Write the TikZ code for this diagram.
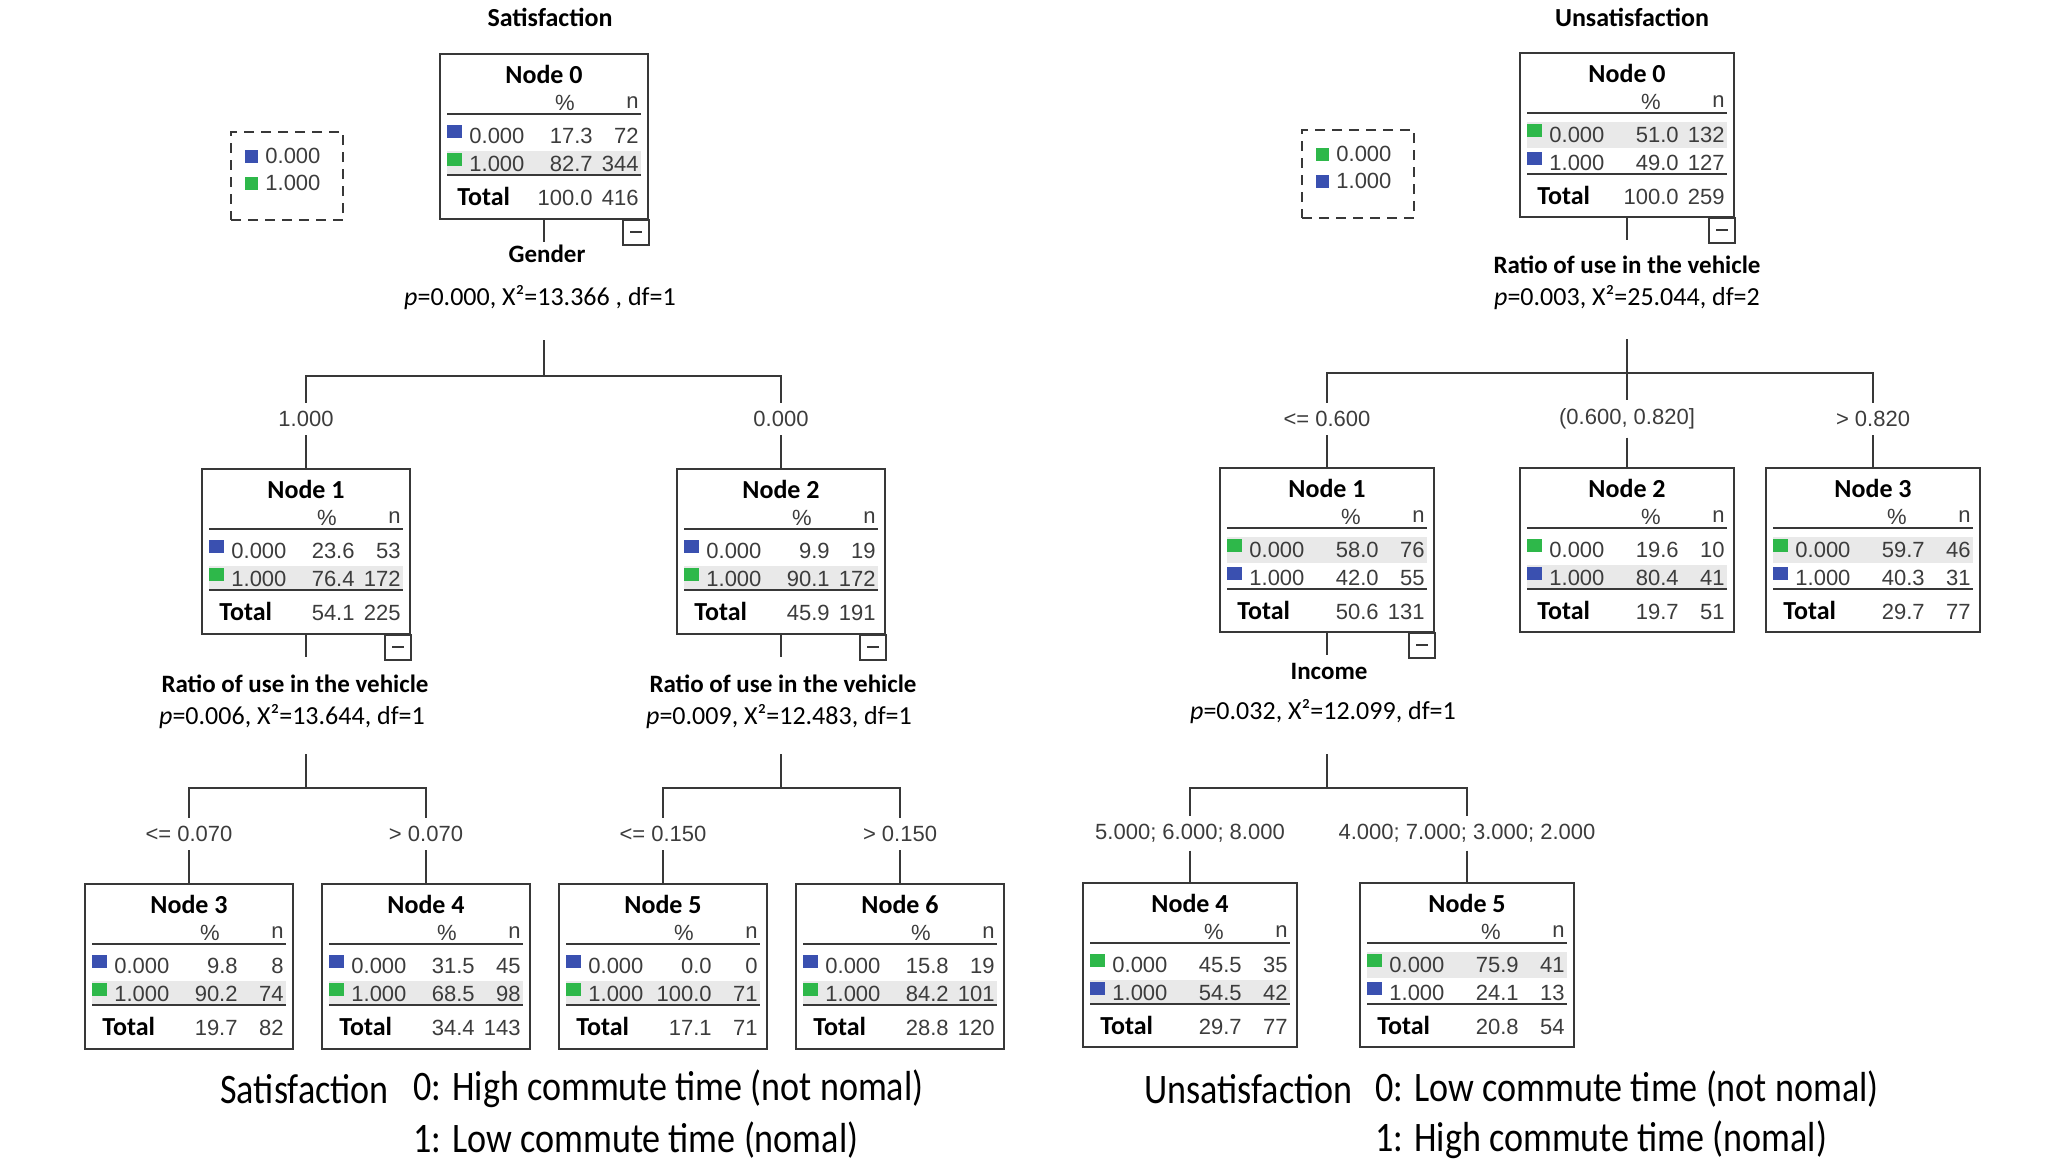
\documentclass[tikz,border=0pt]{standalone}
\usepackage{fontspec}
\setmainfont{Liberation Sans}
\newfontfamily\hdfont{Carlito}
\newfontfamily\capfont[FakeStretch=0.86]{Carlito}

\definecolor{sqblue}{HTML}{3A50B0}
\definecolor{sqgreen}{HTML}{2EB84A}
\definecolor{rowgray}{HTML}{E9E9E9}
\definecolor{numgray}{HTML}{3C3C3C}
\definecolor{linegray}{HTML}{383838}

% rows of one node table: name, shaded row, title, % and n of both rows, totals
\newcommand\boxrows[9]{%
  \ifnum#2=1
    \fill[rowgray] ([shift={(8,70)}]#1.north west) rectangle ([shift={(-8,96)}]#1.north east);
  \else
    \fill[rowgray] ([shift={(8,98)}]#1.north west) rectangle ([shift={(-8,121)}]#1.north east);
  \fi
  \node[boxtitle] at ([shift={(0,21)}]#1.north) {#3};
  \node[cell] at ([shift={(-84,50)}]#1.north east) {\%};
  \node[cell,anchor=east] at ([shift={(-10,50)}]#1.north east) {n};
  \draw[tabrule] ([shift={(8,61)}]#1.north west) -- ([shift={(-8,61)}]#1.north east);
  \draw[tabrule] ([shift={(8,122)}]#1.north west) -- ([shift={(-8,122)}]#1.north east);
  \fill[fill=\colA] ([shift={(8,72)}]#1.north west) rectangle ++(15,13);
  \fill[fill=\colB] ([shift={(8,100)}]#1.north west) rectangle ++(15,13);
  \node[cell,anchor=west] at ([shift={(30,83)}]#1.north west) {0.000};
  \node[cell,anchor=east] at ([shift={(-56,83)}]#1.north east) {#4};
  \node[cell,anchor=east] at ([shift={(-10,83)}]#1.north east) {#5};
  \node[cell,anchor=west] at ([shift={(30,111)}]#1.north west) {1.000};
  \node[cell,anchor=east] at ([shift={(-56,111)}]#1.north east) {#6};
  \node[cell,anchor=east] at ([shift={(-10,111)}]#1.north east) {#7};
  \node[totcell,anchor=west] at ([shift={(18,143)}]#1.north west) {Total};
  \node[cell,anchor=east] at ([shift={(-56,145)}]#1.north east) {#8};
  \node[cell,anchor=east] at ([shift={(-10,145)}]#1.north east) {#9};
}
\newcommand\minusbox[1]{%
  \draw[link] (#1.south east) rectangle ++(-26,25);
  \draw[link] ([shift={(-19,12)}]#1.south east) -- ++(12,0);
}
\newcommand\legrows[1]{%
  \fill[fill=\colA] ([shift={(15,19)}]#1.north west) rectangle ++(13,13);
  \fill[fill=\colB] ([shift={(15,46)}]#1.north west) rectangle ++(13,13);
  \node[cell,anchor=west] at ([shift={(35,25)}]#1.north west) {0.000};
  \node[cell,anchor=west] at ([shift={(35,52)}]#1.north west) {1.000};
}

\begin{document}
\begin{tikzpicture}[x=0.5pt,y=-0.5pt,
  treebox/.style={draw=linegray,line width=1pt,anchor=north,minimum width=104pt,minimum height=82.5pt,inner sep=0pt},
  wbox/.style={treebox,minimum width=107pt,minimum height=82pt},
  legbox/.style={draw=linegray,line width=1pt,dash pattern=on 5pt off 3.5pt,anchor=north west,minimum width=56pt,minimum height=44pt,inner sep=0pt},
  link/.style={draw=linegray,line width=1pt},
  tabrule/.style={draw=linegray,line width=1.2pt},
  cell/.style={font=\fontsize{11}{13}\selectfont,text=numgray,inner sep=0pt},
  totcell/.style={font=\hdfont\bfseries\fontsize{13}{15}\selectfont,inner sep=0pt},
  boxtitle/.style={font=\hdfont\bfseries\fontsize{13}{15}\selectfont,inner sep=0pt},
  treetitle/.style={font=\hdfont\bfseries\fontsize{13}{15}\selectfont},
  cut/.style={font=\fontsize{11}{13}\selectfont,text=numgray,inner sep=4pt},
  varname/.style={font=\hdfont\bfseries\fontsize{12.5}{15}\selectfont},
  stat/.style={font=\hdfont\fontsize{13}{15}\selectfont},
  caption/.style={font=\capfont\fontsize{21}{25}\selectfont,anchor=west,inner sep=0pt}]
  \useasboundingbox (0,0) rectangle (2067,1163);

  % Satisfaction tree
  \def\colA{sqblue}\def\colB{sqgreen}
  \node[treetitle] (sat) at (550,17) {Satisfaction};
  \node[legbox] (sleg) at (230,131) {};
  \legrows{sleg}

  \node[treebox] (l0) at (544,53) {};
  \boxrows{l0}{2}{Node 0}{17.3}{72}{82.7}{344}{100.0}{416}
  \minusbox{l0}
  \draw[link] (l0.south) -- ++(0,22);
  \node[varname] (l0var) at (547,254) {Gender};
  \node[stat] (l0stat) at (540,298) {\textit{p}=0.000, X²=13.366 , df=1};
  \coordinate (l0fork) at (544,376);
  \draw[link] (l0fork) -- ++(0,-36);
  \node[cut] (l1cut) at (306,419) {1.000};
  \node[cut] (l2cut) at (781,419) {0.000};
  \draw[link] (l1cut.north) -- (l1cut.north |- l0fork) -- (l2cut.north |- l0fork) -- (l2cut.north);

  \node[treebox] (l1) at (306,468) {};
  \node[treebox] (l2) at (781,468) {};
  \draw[link] (l1cut.south) -- (l1.north);
  \draw[link] (l2cut.south) -- (l2.north);
  \boxrows{l1}{2}{Node 1}{23.6}{53}{76.4}{172}{54.1}{225}
  \boxrows{l2}{2}{Node 2}{9.9}{19}{90.1}{172}{45.9}{191}
  \minusbox{l1}
  \minusbox{l2}
  \draw[link] (l1.south) -- ++(0,22);
  \draw[link] (l2.south) -- ++(0,22);
  \node[varname] (l1var) at (295,684) {Ratio of use in the vehicle};
  \node[stat] (l1stat) at (292,717) {\textit{p}=0.006, X²=13.644, df=1};
  \node[varname] (l2var) at (783,684) {Ratio of use in the vehicle};
  \node[stat] (l2stat) at (779,717) {\textit{p}=0.009, X²=12.483, df=1};
  \coordinate (l1fork) at (306,788);
  \coordinate (l2fork) at (781,788);
  \draw[link] (l1fork) -- ++(0,-34);
  \draw[link] (l2fork) -- ++(0,-34);
  \node[cut] (l3cut) at (189,834) {<= 0.070};
  \node[cut] (l4cut) at (426,834) {> 0.070};
  \node[cut] (l5cut) at (663,834) {<= 0.150};
  \node[cut] (l6cut) at (900,834) {> 0.150};
  \draw[link] (l3cut.north) -- (l3cut.north |- l1fork) -- (l4cut.north |- l1fork) -- (l4cut.north);
  \draw[link] (l5cut.north) -- (l5cut.north |- l2fork) -- (l6cut.north |- l2fork) -- (l6cut.north);

  \node[treebox] (l3) at (189,883) {};
  \node[treebox] (l4) at (426,883) {};
  \node[treebox] (l5) at (663,883) {};
  \node[treebox] (l6) at (900,883) {};
  \foreach \k in {3,4,5,6} {\draw[link] (l\k cut.south) -- (l\k.north);}
  \boxrows{l3}{2}{Node 3}{9.8}{8}{90.2}{74}{19.7}{82}
  \boxrows{l4}{2}{Node 4}{31.5}{45}{68.5}{98}{34.4}{143}
  \boxrows{l5}{2}{Node 5}{0.0}{0}{100.0}{71}{17.1}{71}
  \boxrows{l6}{2}{Node 6}{15.8}{19}{84.2}{101}{28.8}{120}

  % Unsatisfaction tree
  \def\colA{sqgreen}\def\colB{sqblue}
  \node[treetitle] (unsat) at (1632,17) {Unsatisfaction};
  \node[legbox] (uleg) at (1301,129) {};
  \legrows{uleg}

  \node[wbox] (r0) at (1627,52) {};
  \boxrows{r0}{1}{Node 0}{51.0}{132}{49.0}{127}{100.0}{259}
  \minusbox{r0}
  \draw[link] (r0.south) -- ++(0,22);
  \node[varname] (r0var) at (1627,265) {Ratio of use in the vehicle};
  \node[stat] (r0stat) at (1627,298) {\textit{p}=0.003, X²=25.044, df=2};
  \coordinate (r0fork) at (1627,373);
  \node[cut] (r1cut) at (1327,419) {<= 0.600};
  \node[cut] (r2cut) at (1627,419) {(0.600, 0.820]};
  \node[cut] (r3cut) at (1873,419) {> 0.820};
  \draw[link] (r0fork) ++(0,-34) -- (r2cut.north);
  \draw[link] (r1cut.north) -- (r1cut.north |- r0fork) -- (r3cut.north |- r0fork) -- (r3cut.north);

  \node[wbox] (r1) at (1327,467) {};
  \node[wbox] (r2) at (1627,467) {};
  \node[wbox] (r3) at (1873,467) {};
  \foreach \k in {1,2,3} {\draw[link] (r\k cut.south) -- (r\k.north);}
  \boxrows{r1}{1}{Node 1}{58.0}{76}{42.0}{55}{50.6}{131}
  \boxrows{r2}{2}{Node 2}{19.6}{10}{80.4}{41}{19.7}{51}
  \boxrows{r3}{1}{Node 3}{59.7}{46}{40.3}{31}{29.7}{77}
  \minusbox{r1}
  \draw[link] (r1.south) -- ++(0,22);
  \node[varname] (r1var) at (1329,671) {Income};
  \node[stat] (r1stat) at (1323,712) {\textit{p}=0.032, X²=12.099, df=1};
  \coordinate (r1fork) at (1327,788);
  \draw[link] (r1fork) -- ++(0,-34);
  \node[cut] (r4cut) at (1190,833) {5.000; 6.000; 8.000};
  \node[cut] (r5cut) at (1467,833) {4.000; 7.000; 3.000; 2.000};
  \draw[link] (r4cut.north) -- (r4cut.north |- r1fork) -- (r5cut.north |- r1fork) -- (r5cut.north);

  \node[wbox] (r4) at (1190,882) {};
  \node[wbox] (r5) at (1467,882) {};
  \foreach \k in {4,5} {\draw[link] (r\k cut.south) -- (r\k.north);}
  \boxrows{r4}{2}{Node 4}{45.5}{35}{54.5}{42}{29.7}{77}
  \boxrows{r5}{1}{Node 5}{75.9}{41}{24.1}{13}{20.8}{54}

  % class captions
  \node[caption] (scap) at (220,1089) {Satisfaction};
  \node[caption] (s0txt) at (413,1089) {0: High commute time (not nomal)};
  \node[caption] (s1txt) at (413,1140) {1: Low commute time (nomal)};
  \node[caption] (ucap) at (1144,1089) {Unsatisfaction};
  \node[caption] (u0txt) at (1375,1089) {0: Low commute time (not nomal)};
  \node[caption] (u1txt) at (1375,1140) {1: High commute time (nomal)};
\end{tikzpicture}
\end{document}
